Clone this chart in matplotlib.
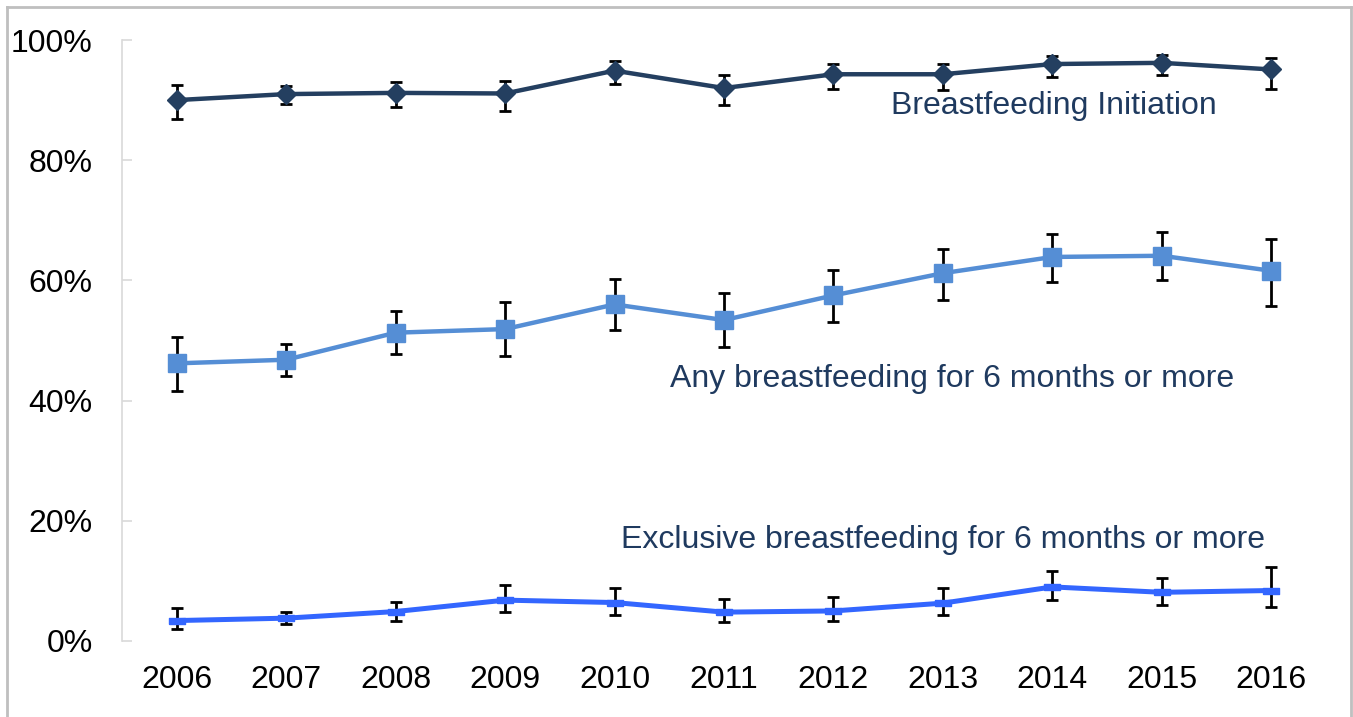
import matplotlib
matplotlib.use("Agg")
import matplotlib.pyplot as plt
from matplotlib.lines import Line2D
import numpy as np

plt.rcParams['font.family'] = ['Liberation Sans', 'DejaVu Sans']

years = ["2006", "2007", "2008", "2009", "2010", "2011", "2012", "2013", "2014", "2015", "2016"]

initiation = [90.0, 91.0, 91.2, 91.1, 94.9, 92.0, 94.3, 94.3, 96.0, 96.2, 95.1]
initiation_hi = [92.5, 92.4, 93.0, 93.2, 96.5, 94.1, 96.0, 96.0, 97.3, 97.5, 97.0]
initiation_lo = [86.9, 89.3, 88.9, 88.2, 92.7, 89.2, 91.8, 91.7, 93.9, 94.2, 91.8]

any6 = [46.2, 46.8, 51.3, 51.9, 56.0, 53.4, 57.5, 61.2, 63.9, 64.1, 61.6]
any6_hi = [50.6, 49.4, 54.9, 56.4, 60.2, 57.9, 61.7, 65.3, 67.8, 68.0, 66.9]
any6_lo = [41.6, 44.1, 47.7, 47.5, 51.7, 49.0, 53.0, 56.7, 59.8, 60.1, 55.7]

excl6 = [3.4, 3.8, 4.9, 6.8, 6.4, 4.8, 5.0, 6.3, 9.0, 8.1, 8.4]
excl6_hi = [5.5, 4.9, 6.5, 9.4, 8.8, 7.0, 7.3, 8.8, 11.6, 10.5, 12.3]
excl6_lo = [2.0, 2.8, 3.4, 4.9, 4.4, 3.1, 3.3, 4.3, 6.8, 6.0, 5.7]

yticks = [0, 20, 40, 60, 80, 100]
ytick_labels = ["0%", "20%", "40%", "60%", "80%", "100%"]

labels = ["Breastfeeding Initiation",
          "Any breastfeeding for 6 months or more",
          "Exclusive breastfeeding for 6 months or more"]

W, H = 1353, 717
fig = plt.figure(figsize=(W / 100, H / 100), dpi=100)
ax = fig.add_axes([122 / W, 1 - 641 / H, (1326 - 122) / W, (641 - 40) / H])

x = np.arange(len(years))

def draw(vals, hi, lo, color, marker, ms, lw):
    vals = np.array(vals); hi = np.array(hi); lo = np.array(lo)
    ax.errorbar(x, vals, yerr=[vals - lo, hi - vals], fmt='none', ecolor='black',
                elinewidth=2.0, capsize=4.5, capthick=2.0, zorder=2)
    ax.plot(x, vals, color=color, lw=lw, marker=marker, ms=ms, mec=color, mfc=color,
            zorder=3, solid_joinstyle='miter')

draw(initiation, initiation_hi, initiation_lo, '#243F60', 'D', 10.5, 3.2)
draw(any6, any6_hi, any6_lo, '#558ED5', 's', 13, 3.2)
dash = [(-1, -0.32), (1, -0.32), (1, 0.32), (-1, 0.32), (-1, -0.32)]
draw(excl6, excl6_hi, excl6_lo, '#3366FF', dash, 12, 3.6)

ax.set_xlim(-0.5, len(years) - 0.5)
ax.set_ylim(0, 100)
ax.set_yticks(yticks)
ax.set_yticklabels(ytick_labels)
ax.set_xticks(x)
ax.set_xticklabels(years)

for s in ['top', 'right', 'bottom']:
    ax.spines[s].set_visible(False)
ax.spines['left'].set_color('#D9D9D9')
ax.spines['left'].set_linewidth(1.2)
ax.tick_params(axis='y', direction='in', length=7, color='#D9D9D9', width=1.2,
               labelsize=23, pad=21, labelcolor='black')
ax.tick_params(axis='x', length=0, labelsize=23, pad=17, labelcolor='black')

txtc = '#1F3A5F'

def px2data(px, py):
    inv = ax.transData.inverted()
    return inv.transform((px, H - py))

for (px, py), lab in zip([(1054, 106), (952, 379), (943, 540)], labels):
    dx, dy = px2data(px, py)
    ax.text(dx, dy, lab, fontsize=23, color=txtc, ha='center', va='center')

# figure border
border_c = '#BFBFBF'
fig.add_artist(Line2D([7 / W, 7 / W], [0, 1 - 7 / H], color=border_c, lw=2, transform=fig.transFigure))
fig.add_artist(Line2D([7 / W, 1351 / W], [1 - 7 / H, 1 - 7 / H], color=border_c, lw=2, transform=fig.transFigure))
fig.add_artist(Line2D([1351 / W, 1351 / W], [0, 1 - 7 / H], color=border_c, lw=2, transform=fig.transFigure))

fig.savefig('out.png', dpi=100)
